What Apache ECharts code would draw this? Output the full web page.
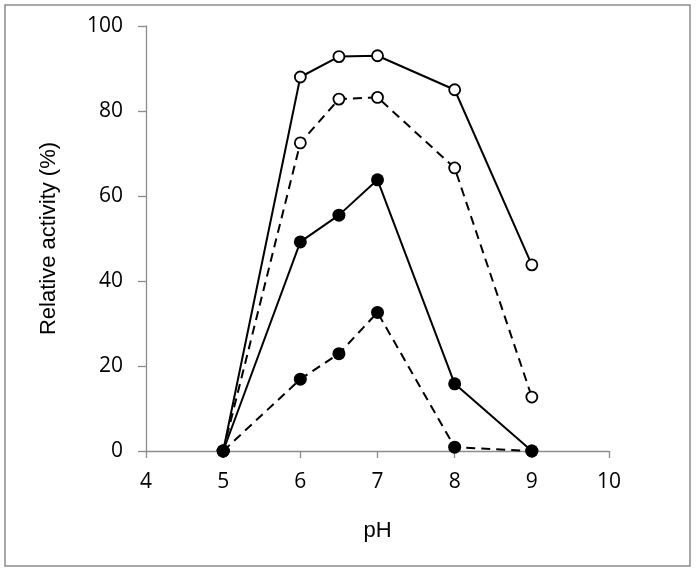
<!DOCTYPE html>
<html><head><meta charset="utf-8">
<script src="https://cdn.jsdelivr.net/npm/echarts@6/dist/echarts.min.js"></script>
<style>html,body{margin:0;padding:0;background:#fff}#c{width:696px;height:573px}</style>
</head><body><div id="c"></div>
<script>
const phValues = [5, 6, 6.5, 7, 8, 9];
const openSolid = [0, 88, 92.8, 93, 85, 43.8];
const openDashed = [0, 72.5, 82.8, 83.2, 66.6, 12.7];
const filledSolid = [0, 49.2, 55.5, 63.8, 15.8, 0];
const filledDashed = [0, 16.9, 22.9, 32.6, 0.9, 0];
const xTicks = [4, 5, 6, 7, 8, 9, 10];
const yTicks = [0, 20, 40, 60, 80, 100];

function pairs(vals){ return phValues.map((x,i)=>[x, vals[i]]); }
function ser(vals, dashed, open){
  return {
    type:'line', data:pairs(vals), symbol:'circle', symbolSize: open?11:13,
    lineStyle:{color:'#000', width:2, type: dashed?[9,6]:'solid'},
    itemStyle:{color: open?'#fff':'#000', borderColor:'#000', borderWidth: open?1.8:0},
    z: open?2:3, animation:false
  };
}
const chart = echarts.init(document.getElementById('c'), null, {renderer:'canvas'});
chart.setOption({
  animation:false,
  backgroundColor:'#fff',
  graphic:[{type:'rect', shape:{x:5,y:5,width:685,height:561}, style:{fill:'none', stroke:'#8c8c8c', lineWidth:1.5}, silent:true}],
  grid:{left:146, right:87, top:26, bottom:122},
  xAxis:{
    type:'value', min:4, max:10, interval:1,
    name:'pH', nameLocation:'middle', nameGap:69,
    nameTextStyle:{fontFamily:'Liberation Sans', fontSize:22, color:'#000'},
    axisLine:{show:true, lineStyle:{color:'#8c8c8c', width:1.3}},
    axisTick:{show:true, length:7, lineStyle:{color:'#8c8c8c', width:1.3}},
    axisLabel:{fontFamily:'Open Sans', fontSize:21, color:'#000', margin:21,
      formatter:v=>xTicks.includes(v)?String(v):''},
    splitLine:{show:false}
  },
  yAxis:{
    type:'value', min:0, max:100, interval:20,
    name:'Relative activity (%)', nameLocation:'middle', nameGap:86, nameRotate:90,
    nameTextStyle:{fontFamily:'Liberation Sans', fontSize:22, color:'#000'},
    axisLine:{show:true, lineStyle:{color:'#8c8c8c', width:1.3}},
    axisTick:{show:true, length:8, lineStyle:{color:'#8c8c8c', width:1.3}},
    axisLabel:{fontFamily:'Open Sans', fontSize:21, color:'#000', margin:23,
      formatter:v=>yTicks.includes(v)?String(v):''},
    splitLine:{show:false}
  },
  series:[ser(openDashed,true,true), ser(openSolid,false,true), ser(filledDashed,true,false), ser(filledSolid,false,false)]
});
</script></body></html>
